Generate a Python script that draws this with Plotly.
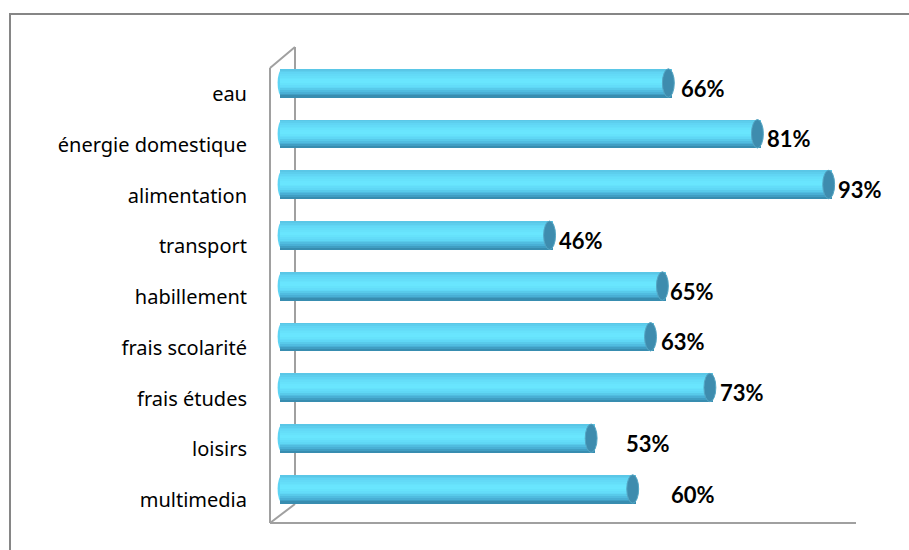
import plotly.graph_objects as go

# Share of households (%) by spending category
categories = ["eau", "énergie domestique", "alimentation", "transport", "habillement",
              "frais scolarité", "frais études", "loisirs", "multimedia"]
values = [66, 81, 93, 46, 65, 63, 73, 53, 60]
value_labels = ["66%", "81%", "93%", "46%", "65%", "63%", "73%", "53%", "60%"]

# Horizontal gap (px) between each bar end and its value label
label_gap = [7, 4, 4, 4, 2, 5, 5, 29, 33]

W_PX, H_PX = 909, 550
PLOT_L, PLOT_R, PLOT_T, PLOT_B = 270, 856, 47, 523
X_RANGE = [-1.68, 97.0]
Y_RANGE = [8.67, -0.71]
BAR_W = 0.56

# Vertical colour ramp across the bar thickness (top -> bottom) for a cylinder look
ramp = [(0.0, (88, 196, 228)), (0.18, (98, 216, 246)), (0.45, (106, 232, 255)),
        (0.65, (96, 216, 246)), (0.85, (72, 174, 212)), (1.0, (52, 132, 166))]


def ramp_color(t):
    for (t0, c0), (t1, c1) in zip(ramp[:-1], ramp[1:]):
        if t0 <= t <= t1:
            f = (t - t0) / (t1 - t0)
            c = [round(a + (b - a) * f) for a, b in zip(c0, c1)]
            return f"rgb({c[0]},{c[1]},{c[2]})"
    c = ramp[-1][1]
    return f"rgb({c[0]},{c[1]},{c[2]})"


positions = list(range(len(categories)))
fig = go.Figure()

n_stripes = 16
step = BAR_W / n_stripes
for k in range(n_stripes):
    fig.add_trace(go.Bar(
        x=values, y=positions, orientation="h",
        base=0, width=step * 1.2, offset=-BAR_W / 2 + k * step,
        marker=dict(color=ramp_color((k + 0.5) / n_stripes), line=dict(width=0)),
        hoverinfo="skip", showlegend=False,
    ))

shapes = []
# Rounded left ends and darker end faces on the right
for p, v in zip(positions, values):
    shapes.append(dict(type="circle", xref="x", yref="y", layer="below",
                       x0=-0.4, x1=1.0, y0=p - BAR_W / 2 + 0.02, y1=p + BAR_W / 2 - 0.02,
                       fillcolor="rgb(94,212,244)", line=dict(width=0)))
    shapes.append(dict(type="circle", xref="x", yref="y", layer="above",
                       x0=v - 1.6, x1=v + 0.4, y0=p - BAR_W / 2, y1=p + BAR_W / 2,
                       fillcolor="rgb(62,140,174)", line=dict(color="rgb(84,166,196)", width=1)))


def px_x(px):
    return (px - PLOT_L) / (PLOT_R - PLOT_L)


def px_y(py):
    return (PLOT_B - py) / (PLOT_B - PLOT_T)


frame = "rgb(160,160,160)"
frame_lines = [
    ((270, 68), (270, 523)),   # front left edge
    ((270, 68), (295, 47)),    # top depth edge
    ((295, 47), (295, 504)),   # back wall edge
    ((270, 523), (295, 504)),  # bottom depth edge
    ((270, 523), (856, 523)),  # floor front edge
]
for (xa, ya), (xb, yb) in frame_lines:
    shapes.append(dict(type="line", xref="paper", yref="paper", layer="below",
                       x0=px_x(xa), y0=px_y(ya), x1=px_x(xb), y1=px_y(yb),
                       line=dict(color=frame, width=2)))

# Outer chart border
shapes.append(dict(type="rect", xref="paper", yref="paper", layer="below",
                   x0=px_x(10), y0=px_y(14), x1=px_x(915), y1=px_y(560),
                   line=dict(color="rgb(134,134,134)", width=2), fillcolor="rgba(0,0,0,0)"))

annotations = []
for p, v, txt, g in zip(positions, values, value_labels, label_gap):
    annotations.append(dict(x=v, y=p, xref="x", yref="y", text=f"<b>{txt}</b>",
                            showarrow=False, xanchor="left", yanchor="middle",
                            xshift=g, yshift=-5,
                            font=dict(family="Lato", size=22, color="black")))

fig.update_layout(
    width=W_PX, height=H_PX,
    margin=dict(l=PLOT_L, r=W_PX - PLOT_R, t=PLOT_T, b=H_PX - PLOT_B),
    paper_bgcolor="white", plot_bgcolor="white",
    barmode="overlay", bargap=0,
    shapes=shapes, annotations=annotations,
    xaxis=dict(range=X_RANGE, visible=False, fixedrange=True),
    yaxis=dict(range=Y_RANGE, tickmode="array", tickvals=positions, ticktext=categories,
               showgrid=False, zeroline=False, showline=False, ticks="",
               ticklabelstandoff=22, ticklabelshift=-11,
               tickfont=dict(family="Noto Sans", size=20, color="black"), fixedrange=True),
)

fig.write_html("out.html")
